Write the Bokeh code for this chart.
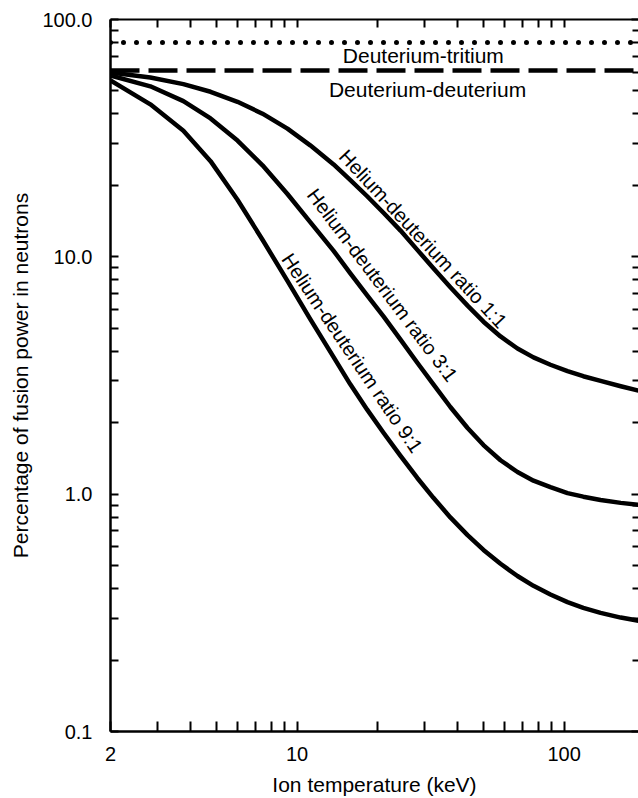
from bokeh.plotting import figure
from bokeh.models import Range1d, LogAxis, FixedTicker, CustomJSTickFormatter
from bokeh.core.properties import value
from bokeh.embed import file_html
from bokeh.resources import INLINE
import math

# ---- data (ion temperature keV, percentage of fusion power in neutrons) ----
X_LIMITS = [2, 190]

DT_X = [2, 190]
DT_Y = [80, 80]          # Deuterium-tritium
DD_X = [2, 190]
DD_Y = [61, 61]          # Deuterium-deuterium

TEMP_KEV = [2.00, 2.82, 3.75, 4.74, 5.98, 7.42, 9.20, 11.2, 13.7, 15.8, 18.3, 21.1,
            24.4, 28.2, 32.4, 37.5, 43.5, 49.9, 57.8, 66.9, 76.8, 88.9, 103, 118,
            137, 163, 190]

HE11_Y = [59.8, 57.0, 53.4, 49.6, 45.0, 40.1, 34.7, 29.5, 24.5, 21.1, 18.0, 15.3,
          12.9, 10.7, 8.96, 7.44, 6.23, 5.33, 4.62, 4.11, 3.77, 3.51, 3.30, 3.14,
          3.00, 2.85, 2.73]

HE31_Y = [58.1, 52.3, 45.3, 38.3, 30.9, 24.3, 18.4, 14.0, 10.6, 8.54, 6.88, 5.60,
          4.48, 3.58, 2.90, 2.33, 1.90, 1.61, 1.39, 1.24, 1.14, 1.07, 1.01, 0.976,
          0.945, 0.919, 0.902]

HE91_Y = [55.4, 43.9, 34.0, 25.3, 17.4, 11.8, 7.92, 5.46, 3.78, 2.91, 2.27, 1.81,
          1.45, 1.17, 0.965, 0.798, 0.672, 0.582, 0.509, 0.452, 0.411, 0.378, 0.351,
          0.332, 0.316, 0.302, 0.293]

X_MAJOR = [2, 10, 100]
X_MINOR = [3, 4, 5, 6, 7, 8, 9, 20, 30, 40, 50, 60, 70, 80, 90]
Y_MAJOR = [0.1, 1, 10, 100]
Y_MINOR = [m * d for d in (0.1, 1, 10) for m in range(2, 10)]

X_LABEL = "Ion temperature (keV)"
Y_LABEL = "Percentage of fusion power in neutrons"

LABEL_TEXT = ["Deuterium-tritium", "Deuterium-deuterium",
              "Helium-deuterium ratio 1:1", "Helium-deuterium ratio 3:1",
              "Helium-deuterium ratio 9:1"]
LABEL_X = [29.7, 30.8, 29.7, 20.9, 16.1]
LABEL_Y = [70.6, 50.8, 11.9, 7.6, 3.93]
LABEL_ANGLE_DEG = [0, 0, -47, -53, -56]
LABEL_SIZE = ["21px", "21px", "20px", "20px", "20px"]

FONT = "Liberation Sans"
FS = "20px"
FS_AXIS = "21px"

p = figure(width=638, height=798, x_axis_type="log", y_axis_type="log",
           x_range=Range1d(*X_LIMITS), y_range=Range1d(0.1, 100),
           output_backend="svg", toolbar_location=None,
           min_border_left=110, min_border_right=0, min_border_top=19,
           min_border_bottom=66)
p.xgrid.visible = False
p.ygrid.visible = False
p.outline_line_color = None
p.background_fill_color = "white"
p.border_fill_color = "white"

xt = FixedTicker(ticks=X_MAJOR, minor_ticks=X_MINOR)
yt = FixedTicker(ticks=Y_MAJOR, minor_ticks=Y_MINOR)
blank = CustomJSTickFormatter(code="return ''")

bx = p.below[0]
bx.ticker = xt
bx.formatter = CustomJSTickFormatter(code="return tick.toFixed(0)")
bx.major_tick_in = 10; bx.major_tick_out = 0
bx.minor_tick_in = 10; bx.minor_tick_out = 0
bx.axis_line_width = 2.5
bx.major_tick_line_width = 2; bx.minor_tick_line_width = 2
bx.major_label_standoff = 15
bx.major_label_text_font = FONT; bx.major_label_text_font_size = FS
bx.major_label_text_color = "black"
bx.axis_label = X_LABEL
bx.axis_label_text_font = FONT; bx.axis_label_text_font_size = FS_AXIS
bx.axis_label_text_font_style = "normal"; bx.axis_label_text_color = "black"
bx.axis_label_standoff = 9

ly = p.left[0]
ly.ticker = yt
ly.formatter = CustomJSTickFormatter(code="return tick.toFixed(1)")
ly.major_tick_in = 8; ly.major_tick_out = 0
ly.minor_tick_in = 8; ly.minor_tick_out = 0
ly.axis_line_width = 2.5
ly.major_tick_line_width = 2; ly.minor_tick_line_width = 2
ly.major_label_standoff = 18
ly.major_label_text_font = FONT; ly.major_label_text_font_size = FS
ly.major_label_text_color = "black"
ly.axis_label = Y_LABEL
ly.axis_label_text_font = FONT; ly.axis_label_text_font_size = FS_AXIS
ly.axis_label_text_font_style = "normal"; ly.axis_label_text_color = "black"
ly.axis_label_standoff = 7

top = LogAxis(ticker=xt, formatter=blank, major_tick_in=8, major_tick_out=0,
              minor_tick_in=8, minor_tick_out=0, axis_line_width=2,
              major_tick_line_width=2, minor_tick_line_width=2,
              major_label_standoff=0)
p.add_layout(top, "above")

right = LogAxis(ticker=yt, formatter=blank, major_tick_in=7, major_tick_out=0,
                minor_tick_in=6, minor_tick_out=0, axis_line_color=None,
                major_tick_line_width=2, minor_tick_line_width=2,
                major_label_standoff=0)
p.add_layout(right, "right")

p.line(DT_X, DT_Y, line_width=5, line_dash="0 13", line_cap="round", color="black")
p.line(DD_X, DD_Y, line_width=4.5, line_dash="29 9", color="black")
for ys in (HE11_Y, HE31_Y, HE91_Y):
    p.line(TEMP_KEV, ys, line_width=4.5, line_join="round", color="black")

for i in range(len(LABEL_TEXT)):
    p.text(x=[LABEL_X[i]], y=[LABEL_Y[i]], text=[LABEL_TEXT[i]],
           angle=math.radians(LABEL_ANGLE_DEG[i]),
           text_font=value(FONT), text_font_size=LABEL_SIZE[i], text_color="black",
           text_align="center", text_baseline="middle")

open("out.html", "w").write(file_html(p, INLINE))
